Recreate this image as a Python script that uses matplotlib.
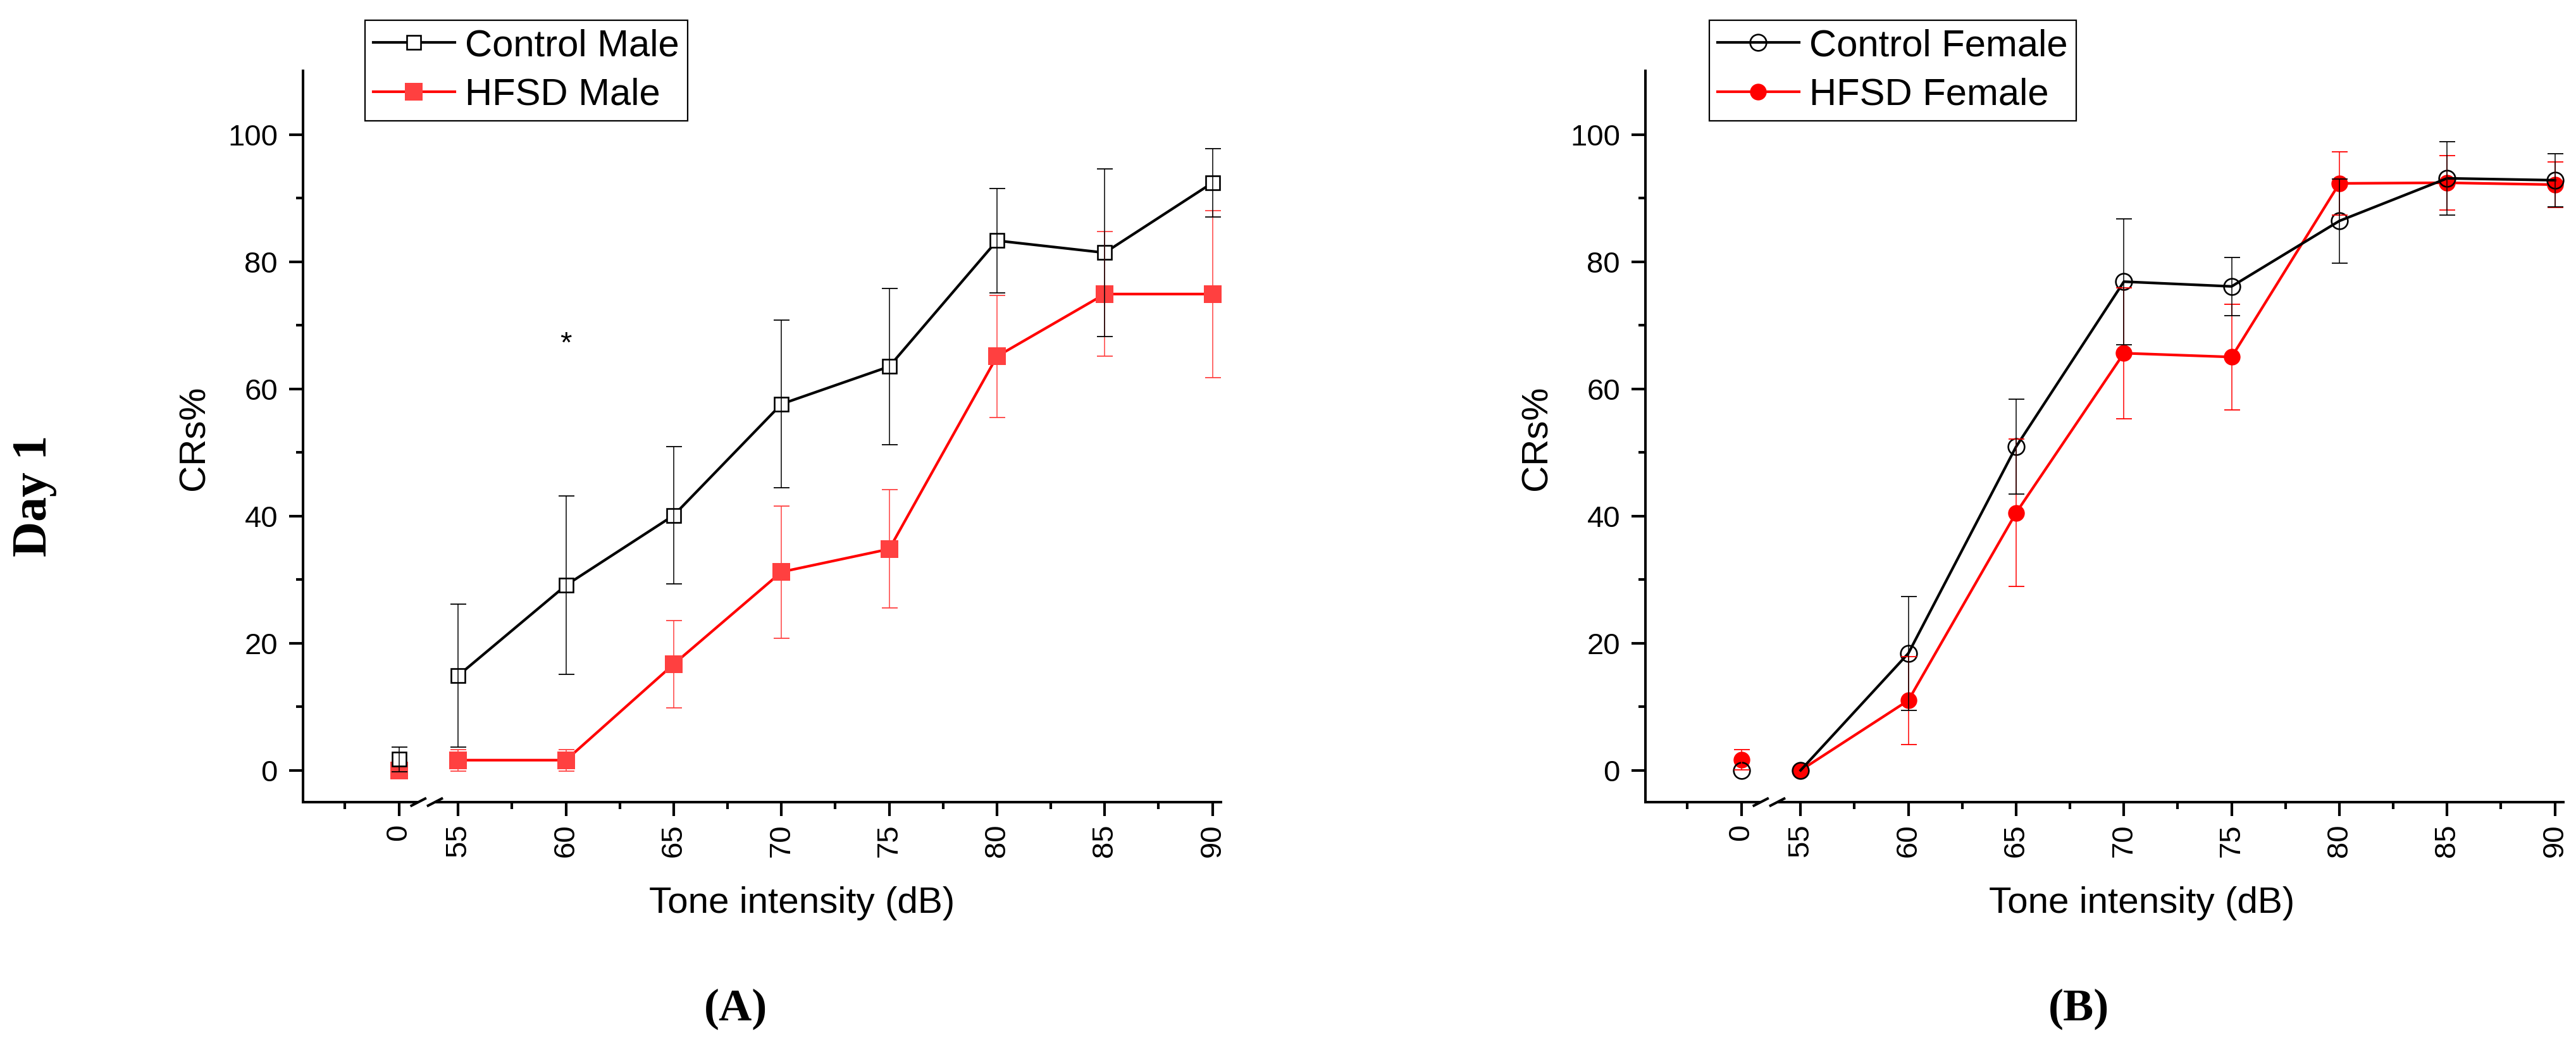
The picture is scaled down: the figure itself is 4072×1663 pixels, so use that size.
import matplotlib
matplotlib.use('Agg')
import matplotlib.pyplot as plt
import matplotlib.transforms as mtransforms
from matplotlib.ticker import FixedLocator

# tone intensities (dB); 0 sits on the left of the axis break
db_levels = [0, 55, 60, 65, 70, 75, 80, 85, 90]
tick_labels = ['0', '55', '60', '65', '70', '75', '80', '85', '90']

# panel A, males
ctrl_male = [1.75, 14.9, 29.1, 40.1, 57.6, 63.5, 83.3, 81.4, 92.4]
ctrl_male_err = [1.95, 11.2, 14.0, 10.8, 13.2, 12.3, 8.2, 13.2, 5.35]
hfsd_male = [0.0, 1.6, 1.6, 16.7, 31.2, 34.8, 65.1, 74.9, 74.9]
hfsd_male_err = [0.0, 1.7, 1.7, 6.9, 10.4, 9.3, 9.6, 9.8, 13.1]

# panel B, females
ctrl_female = [0.0, 0.0, 18.4, 50.9, 76.85, 76.1, 86.4, 93.1, 92.8]
ctrl_female_err = [0.0, 0.0, 8.95, 7.45, 9.9, 4.6, 6.6, 5.8, 4.2]
hfsd_female = [1.66, 0.0, 11.0, 40.5, 65.6, 65.0, 92.3, 92.4, 92.1]
hfsd_female_err = [1.6, 0.0, 6.9, 11.6, 10.3, 8.3, 5.0, 4.3, 3.6]

SANS = ['Liberation Sans', 'DejaVu Sans']
SERIF = ['Liberation Serif', 'DejaVu Serif']
plt.rcParams['font.family'] = SANS

BREAK_SHIFT = 52.25      # where the "0" tick sits on the broken axis
BREAK_GAP = (53.15, 53.92)
XLIM = (47.8, 90.45)


def axis_pos(v):
    # map dB to position on the broken x axis
    return v if v >= 55 else BREAK_SHIFT + v


def draw_group(ax, y, err, color, mcolor, marker, ms, mfc, mew, label, zo):
    xs = [axis_pos(v) for v in db_levels]
    # line only joins the points right of the break
    line, = ax.plot(xs[1:], y[1:], color=color, lw=3.0, marker=marker, ms=ms,
                    mfc=mfc, mec=mcolor, mew=mew, zorder=zo, label=label)
    ax.plot(xs[:1], y[:1], ls='none', marker=marker, ms=ms, mfc=mfc,
            mec=mcolor, mew=mew, zorder=zo)
    keep = [i for i in range(len(xs)) if err[i] > 0]
    ax.errorbar([xs[i] for i in keep], [y[i] for i in keep],
                yerr=[err[i] for i in keep], fmt='none', ecolor=mcolor,
                elinewidth=1.1, capsize=9, capthick=1.3, zorder=6)
    return line


def style_axes(ax):
    ax.set_xlim(*XLIM)
    ax.set_ylim(-5, 110)
    ax.spines['top'].set_visible(False)
    ax.spines['right'].set_visible(False)
    ax.spines['bottom'].set_visible(False)
    ax.spines['left'].set_linewidth(2.9)
    ax.xaxis.set_major_locator(FixedLocator([axis_pos(v) for v in db_levels]))
    ax.set_xticklabels(tick_labels, rotation=90)
    ax.xaxis.set_minor_locator(FixedLocator([49.75, 57.5, 62.5, 67.5, 72.5,
                                             77.5, 82.5, 87.5]))
    ax.yaxis.set_major_locator(FixedLocator([0, 20, 40, 60, 80, 100]))
    ax.yaxis.set_minor_locator(FixedLocator([10, 30, 50, 70, 90]))
    ax.tick_params(which='major', direction='out', length=15.8, width=3,
                   labelsize=34)
    ax.tick_params(which='minor', direction='out', length=8, width=3)
    ax.tick_params(axis='y', which='major', pad=13)
    ax.tick_params(axis='x', which='major', pad=9)

    # bottom axis drawn in two pieces with a "//" break
    trans = mtransforms.blended_transform_factory(ax.transData, ax.transAxes)
    kw = dict(color='black', lw=2.9, transform=trans, clip_on=False,
              solid_capstyle='butt', zorder=7)
    ax.plot([XLIM[0], BREAK_GAP[0]], [0, 0], **kw)
    ax.plot([BREAK_GAP[1], XLIM[1]], [0, 0], **kw)
    for xc in BREAK_GAP:
        ax.plot([xc - 0.37, xc + 0.37], [-0.0056, 0.0056], **kw)


W, H = 4072, 1663
fig = plt.figure(figsize=(W / 100, H / 100), dpi=100)
ax_a = fig.add_axes([479 / W, 1 - 1268 / H, 1453 / W, 1156 / H])
ax_b = fig.add_axes([2601 / W, 1 - 1268 / H, 1453 / W, 1156 / H])

# panel A
h2 = draw_group(ax_a, hfsd_male, hfsd_male_err, '#ff0000', '#ff4040', 's', 19.5,
                '#ff4040', 0, 'HFSD Male', 3)
h1 = draw_group(ax_a, ctrl_male, ctrl_male_err, 'black', 'black', 's', 16.5,
                'white', 1.9, 'Control Male', 4)
style_axes(ax_a)
ax_a.text(60, 65.8, '*', fontsize=34, ha='center', va='baseline')

# panel B
g2 = draw_group(ax_b, hfsd_female, hfsd_female_err, '#ff0000', '#ff0000', 'o', 19,
                '#ff0000', 0, 'HFSD Female', 3)
g1 = draw_group(ax_b, ctrl_female, ctrl_female_err, 'black', 'black', 'o', 18.5,
                'none', 1.9, 'Control Female', 4)
style_axes(ax_b)

leg_kw = dict(loc='upper left', fontsize=43, numpoints=1, handlelength=2.15,
              handletextpad=0.28, labelspacing=0.38, borderpad=0.22,
              borderaxespad=0, fancybox=False, framealpha=1,
              edgecolor='black', bbox_transform=fig.transFigure)
leg = ax_a.legend([h1, h2], ['Control Male', 'HFSD Male'],
                  bbox_to_anchor=(577 / W, 1 - 32 / H), **leg_kw)
leg.get_frame().set_linewidth(1.6)
leg = ax_b.legend([g1, g2], ['Control Female', 'HFSD Female'],
                  bbox_to_anchor=(2702 / W, 1 - 32 / H), **leg_kw)
leg.get_frame().set_linewidth(1.6)

# axis titles
for xc in (307, 2430):
    fig.text(xc / W, 1 - 692 / H, 'CRs%', fontsize=42, rotation=90,
             ha='center', va='center')
fig.text(1268 / W, 1 - 1428 / H, 'Tone intensity (dB)', fontsize=42,
         ha='center', va='center')
fig.text(3386 / W, 1 - 1428 / H, 'Tone intensity (dB)', fontsize=42,
         ha='center', va='center')

# panel letters and row title
fig.text(55 / W, 1 - 784 / H, 'Day 1', fontsize=56, fontweight='bold',
         family=SERIF, rotation=90, ha='center', va='center')
fig.text(1163 / W, 1 - 1595 / H, '(A)', fontsize=52, fontweight='bold',
         family=SERIF, ha='center', va='center')
fig.text(3286 / W, 1 - 1595 / H, '(B)', fontsize=52, fontweight='bold',
         family=SERIF, ha='center', va='center')

fig.savefig('out.png', dpi=100, facecolor='white')
